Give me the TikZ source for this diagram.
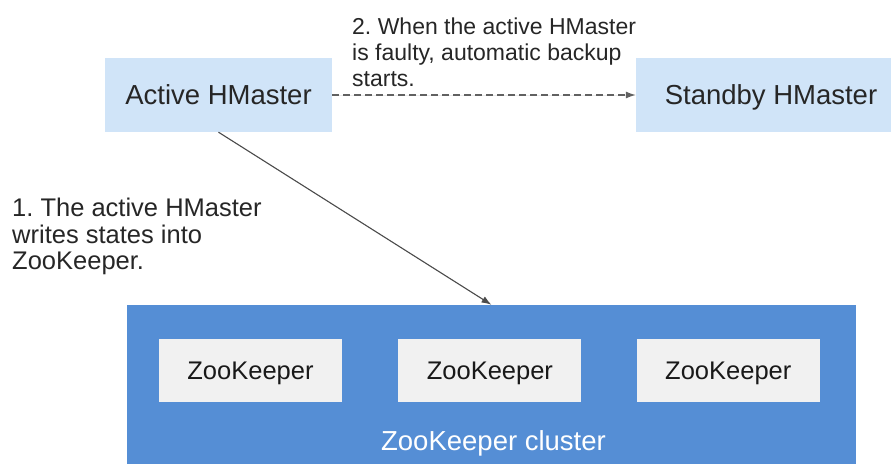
\documentclass[tikz,border=0pt]{standalone}
\usepackage{fontspec}
\setmainfont{Liberation Sans}
\usetikzlibrary{positioning, arrows.meta}
\definecolor{hmblue}{HTML}{D0E4F8}
\definecolor{clusterblue}{HTML}{558ED5}
\definecolor{zkgray}{HTML}{F1F1F1}
\frenchspacing

\begin{document}
\begin{tikzpicture}[x=1pt, y=-1pt,
    master/.style={rectangle, fill=hmblue, minimum width=227pt, minimum height=74pt, inner sep=0pt, text height=19.7pt, text depth=0pt, font=\fontsize{27.5}{33}\selectfont, text=black!85},
    zkbox/.style={rectangle, fill=zkgray, minimum width=183pt, minimum height=63pt, inner sep=0pt, text height=18.3pt, text depth=0pt, font=\fontsize{25.5}{30}\selectfont, text=black!90},
    note/.style={align=left, inner sep=0pt, font=\fontsize{23}{26}\selectfont, text=black!85},
    arrow/.style={-{Latex[length=10pt,width=7pt]}, line width=1.1pt, draw=black!70, fill=black!70}
]
    \useasboundingbox (0,0) rectangle (891,463);

    \node[master] (active) at (218.5,95) {Active HMaster};
    \node[master, minimum width=270pt] (standby) at (771,95) {Standby HMaster};

    \node[rectangle, fill=clusterblue, minimum width=729pt, minimum height=170pt, inner sep=0pt] (cluster) at (491.5,390) {};
    \node[zkbox] (zk1) at (250.5,370.5) {ZooKeeper};
    \node[zkbox, right=56pt of zk1] (zk2) {ZooKeeper};
    \node[zkbox, right=55pt of zk2] (zk3) {ZooKeeper};
    \node[anchor=base, inner sep=0pt, font=\fontsize{27.5}{33}\selectfont, text=white] (clustername) at (493.5,450) {ZooKeeper cluster};

    \node[note, anchor=north west] (note2) at (352,18) {2. When the active HMaster\\is faulty, automatic backup\\starts.};
    \node[note, anchor=north west, font=\fontsize{25.5}{26.5}\selectfont] (note1) at (12,198) {1. The active HMaster\\writes states into\\ZooKeeper.};

    \draw[arrow, draw=black!62, fill=black!62, dash pattern=on 7pt off 4pt] (active) -- (standby);
    \draw[arrow] (active.south) -- (cluster.north);
\end{tikzpicture}
\end{document}
